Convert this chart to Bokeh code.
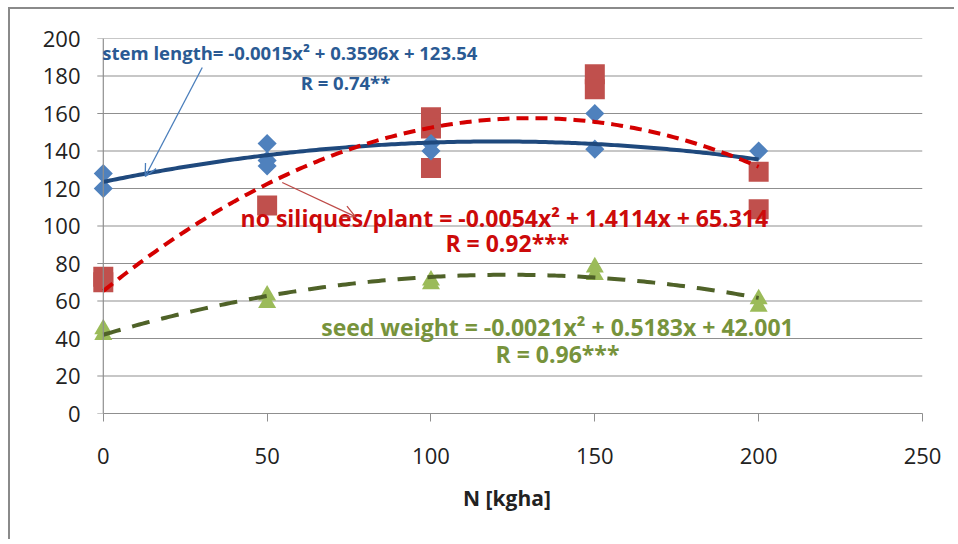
import numpy as np
from bokeh.plotting import figure
from bokeh.models import Range1d, Label, Arrow, OpenHead, FixedTicker, Span
from bokeh.embed import file_html
from bokeh.resources import INLINE

# ---------------- data ----------------
stem_x = [0, 0, 50, 50, 50, 100, 100, 150, 150, 200]
stem_y = [128, 120, 144, 135, 132, 144, 140, 160, 141, 140]

sil_x = [0, 0, 50, 100, 100, 100, 150, 150, 200, 200]
sil_y = [73, 70, 111, 158, 152, 131, 181, 173, 129, 109]

seed_x = [0, 0, 50, 50, 100, 100, 150, 150, 200, 200]
seed_y = [45, 42, 63, 59, 71, 69, 78, 74, 61, 57]

# trendline coefficients (a, b, c) as printed in the chart
stem_coef = [-0.0015, 0.3596, 123.54]
sil_coef = [-0.0054, 1.4114, 65.314]
seed_coef = [-0.0021, 0.5183, 42.001]
trend_from, trend_to = 0, 200

x_ticks = [0, 50, 100, 150, 200, 250]
y_ticks = [0, 20, 40, 60, 80, 100, 120, 140, 160, 180, 200]

stem_eq = "stem length= -0.0015x\u00b2 + 0.3596x + 123.54"
stem_r = "R = 0.74**"
sil_eq = "no siliques/plant  = -0.0054x\u00b2 + 1.4114x + 65.314"
sil_r = "R = 0.92***"
seed_eq = "seed weight = -0.0021x\u00b2 + 0.5183x + 42.001"
seed_r = "R = 0.96***"
x_title = "N [kgha]"

# ---------------- styles ----------------
FONT = "Open Sans"
GRID = "#8f8f8f"
C_STEM_TXT = "#2a5a93"
C_STEM_LINE = "#1f497d"
C_STEM_MK = "#4f81bd"
C_SIL_TXT = "#cc0a0a"
C_SIL_LINE = "#d40000"
C_SIL_MK = "#c0504d"
C_SEED_TXT = "#77933c"
C_SEED_LINE = "#4f6228"
C_SEED_MK = "#9bbb59"
TICK_LEN = 1.83  # y tick length, x-units (~6px)

p = figure(width=946, height=532, output_backend="svg", toolbar_location=None,
           x_range=Range1d(-3.6, 250), y_range=Range1d(0, 200),
           min_border_left=81, min_border_right=34, min_border_top=29,
           min_border_bottom=128)
p.outline_line_color = None
p.background_fill_color = "white"
p.border_fill_color = "white"
p.margin = (7, 0, 0, 8)
p.styles = {"border-top": "2px solid #8a8a8a", "border-left": "2px solid #8a8a8a"}

# gridlines + y ticks (from just left of the y axis to the right end)
p.xgrid.visible = False
p.ygrid.visible = False
p.segment(x0=x_ticks[0] - TICK_LEN, x1=x_ticks[-1], y0=y_ticks, y1=y_ticks,
          line_color=GRID, line_width=1.2)
p.add_layout(Span(location=x_ticks[0], dimension="height", line_color=GRID,
                  line_width=1.2))

# axes
xa = p.xaxis[0]
xa.ticker = FixedTicker(ticks=x_ticks)
xa.bounds = (x_ticks[0], x_ticks[-1])
xa.axis_line_color = GRID
xa.axis_line_width = 1.2
xa.major_tick_line_color = GRID
xa.major_tick_in = 0
xa.major_tick_out = 8
xa.minor_tick_line_color = None
xa.major_label_text_font = FONT
xa.major_label_text_font_size = "22px"
xa.major_label_text_color = "#222222"
xa.major_label_standoff = 26
xa.axis_label = x_title
xa.axis_label_text_font = FONT
xa.axis_label_text_font_size = "21px"
xa.axis_label_text_font_style = "bold"
xa.axis_label_text_color = "#222222"
xa.axis_label_standoff = 17

ya = p.yaxis[0]
ya.ticker = FixedTicker(ticks=y_ticks)
ya.axis_line_color = None
ya.major_tick_line_color = None
ya.major_tick_in = 0
ya.major_tick_out = 0
ya.minor_tick_line_color = None
ya.major_label_text_font = FONT
ya.major_label_text_font_size = "22px"
ya.major_label_text_color = "#222222"
ya.major_label_standoff = 11

# markers
p.scatter(sil_x, sil_y, marker="square", size=20, fill_color=C_SIL_MK,
          line_color=None)
p.scatter(stem_x, stem_y, marker="square", size=13.5, angle=np.pi / 4,
          fill_color=C_STEM_MK, line_color=None)
p.scatter(seed_x, seed_y, marker="triangle", size=18, fill_color=C_SEED_MK,
          line_color=None)

# trend lines
xs = np.linspace(trend_from, trend_to, 201)
def poly(c):
    return c[0] * xs ** 2 + c[1] * xs + c[2]

p.line(xs, poly(stem_coef), line_color=C_STEM_LINE, line_width=4)
p.line(xs, poly(sil_coef), line_color=C_SIL_LINE, line_width=4,
       line_dash="12 7")
p.line(xs, poly(seed_coef), line_color=C_SEED_LINE, line_width=4,
       line_dash="18 12")

# labels
def lab(x, y, t, c, align, size):
    p.add_layout(Label(x=x, y=y, text=t, text_font=FONT, text_font_size=size,
                       text_font_style="bold", text_color=c, text_align=align,
                       text_baseline="middle"))

lab(-0.3, 192.5, stem_eq, C_STEM_TXT, "left", "18.5px")
lab(73.9, 176.5, stem_r, C_STEM_TXT, "center", "18.5px")
lab(123.3, 104.5, sil_eq, C_SIL_TXT, "center", "23px")
lab(123.3, 90.7, sil_r, C_SIL_TXT, "center", "23px")
lab(138.6, 46.4, seed_eq, C_SEED_TXT, "center", "23px")
lab(138.6, 32.0, seed_r, C_SEED_TXT, "center", "23px")

# leader arrows
p.add_layout(Arrow(end=OpenHead(size=12, line_color="#4a7ebb", line_width=1.3),
                   x_start=30.2, y_start=184.5, x_end=12.8, y_end=126.4,
                   line_color="#4a7ebb", line_width=1.3))
p.add_layout(Arrow(end=OpenHead(size=12, line_color="#be4b48", line_width=1.3),
                   x_start=54.6, y_start=123.2, x_end=76.9, y_end=105.0,
                   line_color="#be4b48", line_width=1.3))

open("out.html", "w").write(file_html(p, INLINE))
